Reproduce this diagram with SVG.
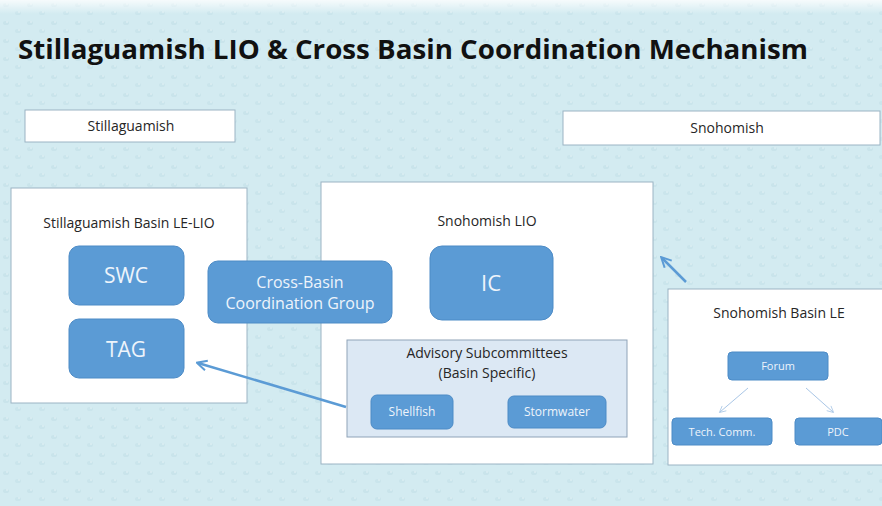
<svg xmlns="http://www.w3.org/2000/svg" width="882" height="506" viewBox="0 0 882 506">
  <defs>
    <pattern id="drops" width="24" height="18" patternUnits="userSpaceOnUse">
      <rect width="24" height="18" fill="#d3ebf1"/>
      <ellipse cx="6" cy="5" rx="3" ry="2" fill="#c9e4eb"/>
      <ellipse cx="18" cy="13" rx="3" ry="2" fill="#cae5ec"/>
      <ellipse cx="7" cy="4" rx="1.2" ry="0.8" fill="#e0f1f5"/>
      <ellipse cx="19" cy="12" rx="1.2" ry="0.8" fill="#e0f1f5"/>
    </pattern>
    <linearGradient id="topFade" x1="0" y1="0" x2="0" y2="1">
      <stop offset="0" stop-color="#ffffff" stop-opacity="0.8"/>
      <stop offset="1" stop-color="#ffffff" stop-opacity="0"/>
    </linearGradient>
    <marker id="arrowBig" viewBox="0 0 10 10" refX="8" refY="5" markerWidth="5" markerHeight="5" orient="auto-start-reverse" markerUnits="strokeWidth">
      <path d="M1,1 L9,5 L1,9" fill="none" stroke="#5b9bd5" stroke-width="1.6"/>
    </marker>
    <marker id="arrowThin" viewBox="0 0 10 10" refX="8" refY="5" markerWidth="8" markerHeight="8" orient="auto" markerUnits="strokeWidth">
      <path d="M1,1 L9,5 L1,9" fill="none" stroke="#a9c6e6" stroke-width="1"/>
    </marker>
  </defs>
  <style>
    text { font-family: "Open Sans", "Liberation Sans", sans-serif; text-anchor: middle; }
    .panel { fill: #ffffff; stroke: #9bb4c4; stroke-width: 1; }
    .node { fill: #5b9bd5; stroke: #4d8bc6; stroke-width: 1; }
    .dark { fill: #262626; font-size: 14px; }
    .light { fill: #eef4fb; }
    .title { fill: #111111; font-size: 26px; font-weight: bold; text-anchor: start; }
  </style>

  <!-- textured backdrop -->
  <rect width="882" height="506" fill="url(#drops)"/>
  <rect width="882" height="14" fill="url(#topFade)"/>

  <text class="title" x="18" y="59" textLength="790" lengthAdjust="spacingAndGlyphs">Stillaguamish LIO &amp; Cross Basin Coordination Mechanism</text>

  <g id="label-stillaguamish">
    <rect class="panel" x="25" y="110" width="210" height="32"/>
    <text class="dark" x="131" y="131">Stillaguamish</text>
  </g>
  <g id="label-snohomish">
    <rect class="panel" x="563" y="111" width="317" height="34"/>
    <text class="dark" x="727" y="133">Snohomish</text>
  </g>

  <g id="stillaguamish-basin">
    <rect class="panel" x="11" y="188" width="236" height="215"/>
    <text class="dark" x="129" y="228" font-size="14.5">Stillaguamish Basin LE-LIO</text>
  </g>
  <g id="swc">
    <rect class="node" x="69" y="246" width="115" height="59" rx="10"/>
    <text class="light" x="126" y="283" font-size="21">SWC</text>
  </g>
  <g id="tag">
    <rect class="node" x="69" y="319" width="115" height="59" rx="10"/>
    <text class="light" x="126" y="357" font-size="21">TAG</text>
  </g>

  <g id="snohomish-lio">
    <rect class="panel" x="321" y="182" width="332" height="282"/>
    <text class="dark" x="487" y="226" font-size="13">Snohomish LIO</text>
  </g>
  <g id="ic">
    <rect class="node" x="430" y="246" width="123" height="74" rx="12"/>
    <text class="light" x="491" y="291" font-size="22">IC</text>
  </g>
  <g id="advisory">
    <rect x="347" y="340" width="280" height="97" fill="#dce8f4" stroke="#8fa3b8" stroke-width="1"/>
    <text class="dark" x="487" y="358">Advisory Subcommittees</text>
    <text class="dark" x="487" y="378">(Basin Specific)</text>
  </g>
  <g id="shellfish">
    <rect class="node" x="371" y="395" width="82" height="34" rx="6"/>
    <text class="light" x="412" y="416" font-size="12">Shellfish</text>
  </g>
  <g id="stormwater">
    <rect class="node" x="508" y="396" width="98" height="32" rx="6"/>
    <text class="light" x="557" y="416" font-size="12">Stormwater</text>
  </g>

  <g id="cross-basin">
    <rect class="node" x="208" y="261" width="184" height="62" rx="10"/>
    <text class="light" x="300" y="288" font-size="16">Cross-Basin</text>
    <text class="light" x="300" y="309" font-size="16">Coordination Group</text>
  </g>

  <g id="snohomish-basin-le">
    <rect class="panel" x="668" y="289" width="216" height="176"/>
    <text class="dark" x="779" y="318">Snohomish Basin LE</text>
  </g>
  <g id="forum">
    <rect class="node" x="728" y="352" width="100" height="28" rx="4"/>
    <text class="light" x="778" y="370" font-size="11">Forum</text>
  </g>
  <g id="tech-comm">
    <rect class="node" x="672" y="418" width="100" height="27" rx="4"/>
    <text class="light" x="722" y="436" font-size="11">Tech. Comm.</text>
  </g>
  <g id="pdc">
    <rect class="node" x="795" y="418" width="87" height="27" rx="4"/>
    <text class="light" x="838" y="436" font-size="11">PDC</text>
  </g>

  <g id="connectors" fill="none">
    <line x1="346" y1="407" x2="198" y2="363" stroke="#5b9bd5" stroke-width="2.5" marker-end="url(#arrowBig)"/>
    <line x1="686" y1="282" x2="662" y2="258" stroke="#5b9bd5" stroke-width="2.5" marker-end="url(#arrowBig)"/>
    <line x1="748" y1="388" x2="720" y2="412" stroke="#a9c6e6" stroke-width="1" marker-end="url(#arrowThin)"/>
    <line x1="806" y1="388" x2="833" y2="412" stroke="#a9c6e6" stroke-width="1" marker-end="url(#arrowThin)"/>
  </g>
</svg>
